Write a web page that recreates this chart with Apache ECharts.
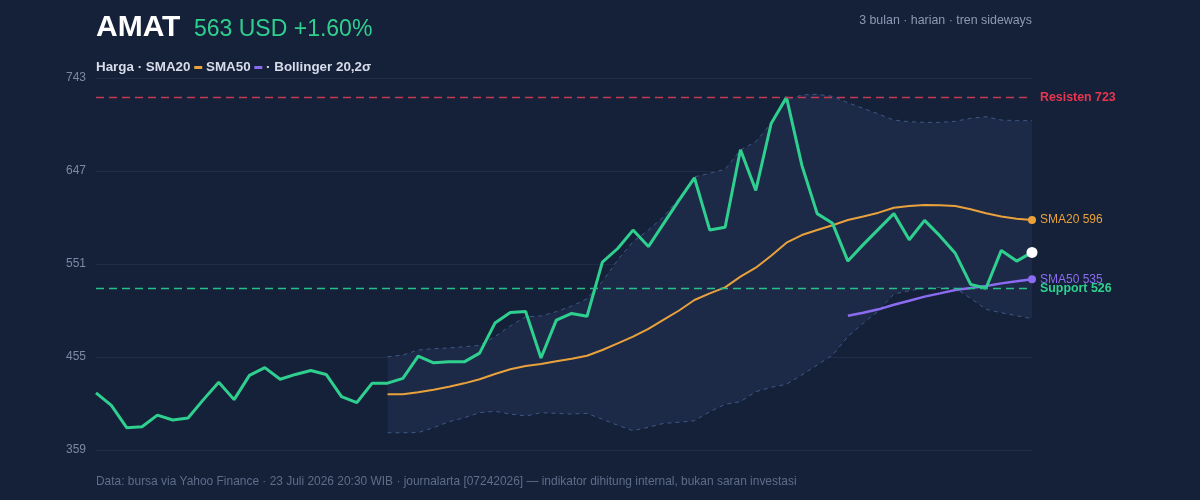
<!DOCTYPE html>
<html>
<head>
<meta charset="utf-8">
<title>AMAT</title>
<script src="https://cdn.jsdelivr.net/npm/echarts@6/dist/echarts.min.js"></script>
<style>
  html, body { margin: 0; padding: 0; background: #152039; }
  #chart { width: 1200px; height: 500px; }
</style>
</head>
<body>
<div id="chart"></div>
<script>
// harga penutupan harian, 3 bulan
const price = [418, 405, 382, 383, 395, 390, 392, 411, 429, 411,
  436, 444, 432, 437, 441, 437, 414, 408, 428, 428,
  433, 456, 449, 450, 450, 459, 490, 501, 502, 454,
  493, 500, 497, 553, 567, 586, 569, 593, 617, 640,
  586, 589, 669, 627, 696, 723, 653, 603, 593, 554,
  571, 587, 603, 576, 596, 580, 562, 530, 526, 565,
  554, 563];
// SMA20 mulai hari ke-20, SMA50 mulai hari ke-50
const sma20 = [416.5, 416.5, 418.5, 421.3, 424.3, 427.8, 432, 437.4, 442.3, 445.7,
  447.8, 450.5, 453.2, 456.3, 462.2, 469.1, 476, 484, 493.5, 503,
  513.8, 520.7, 526.9, 537.9, 547.2, 559.6, 573, 580.9, 586.1, 591,
  596.4, 600, 604, 609.1, 610.9, 611.9, 611.6, 610.9, 607.5, 603.3,
  600, 597.8, 596.4];
const sma50 = [497.6, 500.7, 504.2, 509, 513.1, 517.3, 520.7, 524.2, 526.2, 528.3,
  531, 533.1, 535.3];
// Bollinger 20,2
const bbUpper = [455.3, 457, 462.2, 463.6, 464.3, 465.6, 467, 476, 487, 496.6,
  497.3, 501.8, 507.6, 515, 533, 555.2, 574, 586, 600, 619,
  641, 644.6, 648.7, 668.7, 677.2, 696.2, 720.3, 725.5, 726.2, 724,
  717.5, 711.7, 705.8, 699.6, 697.9, 697.2, 697.2, 698.3, 701.4, 703.1,
  699.6, 699, 699];
const bbLower = [376.8, 376.8, 377, 382, 388.2, 392.3, 397.5, 398.9, 396.1, 394.1,
  397.5, 396.8, 396.1, 396.8, 390.7, 384.5, 379, 382.4, 386.5, 387.6,
  389.2, 398.5, 406.2, 408.9, 419.2, 423.7, 426.8, 436.4, 446.7, 457,
  476, 489.8, 502.8, 520, 523.4, 525.9, 526.9, 525.9, 515.6, 504.2,
  500.7, 497.6, 494.5];
const yTicks = [359, 455, 551, 647, 743];
const resistance = 723;
const support = 526;

const n = price.length;
const days = price.map((_, i) => i + 1);
const pad = arr => Array(n - arr.length).fill('-').concat(arr);
const bandWidth = bbUpper.map((v, i) => +(v - bbLower[i]).toFixed(1));

const font = 'Liberation Sans, Arial, Helvetica, sans-serif';
const green = '#2fd08f';
const orange = '#e9a23b';
const purple = '#8b6cf0';
const red = '#e8364f';
const bandLine = '#3e5884';

const chart = echarts.init(document.getElementById('chart'));
const lastDot = (size) => (v, p) => p.dataIndex === n - 1 ? size : 0;

const option = {
  animation: false,
  backgroundColor: '#152039',
  textStyle: { fontFamily: font },
  grid: { left: 96, right: 168, top: 78, bottom: 50 },
  graphic: [
    { type: 'text', left: 96, top: 13, style: { text: 'AMAT', fill: '#ffffff', font: 'bold 30px ' + font } },
    { type: 'text', left: 194, top: 18, style: { text: '563 USD +1.60%', fill: green, font: '23px ' + font } },
    { type: 'text', right: 168, top: 15, style: { text: '3 bulan · harian · tren sideways', fill: '#8d99b2', font: '12.4px ' + font } },
    {
      type: 'text', left: 96, top: 61,
      style: {
        text: '{a|Harga · SMA20} {o| } {a|SMA50} {p| } {a|· Bollinger 20,2σ}',
        fill: '#d6dcea',
        font: 'bold 13.4px ' + font,
        rich: {
          a: { fill: '#d6dcea', font: 'bold 13.4px ' + font },
          o: { width: 8, height: 3, backgroundColor: orange },
          p: { width: 8, height: 3, backgroundColor: purple }
        }
      }
    },
    { type: 'text', left: 96, top: 476, style: { text: 'Data: bursa via Yahoo Finance · 23 Juli 2026 20:30 WIB · journalarta [07242026] — indikator dihitung internal, bukan saran investasi', fill: '#5f6d89', font: '11.95px ' + font } }
  ],
  xAxis: {
    type: 'category',
    data: days,
    boundaryGap: false,
    show: false
  },
  yAxis: {
    type: 'value',
    min: yTicks[0],
    max: yTicks[yTicks.length - 1],
    interval: yTicks[1] - yTicks[0],
    axisLine: { show: false },
    axisTick: { show: false },
    axisLabel: { color: '#7d89a4', fontSize: 12, margin: 10 },
    splitLine: { lineStyle: { color: '#212d48', width: 1 } }
  },
  series: [
    {
      name: 'bb-base', type: 'line', stack: 'bb', data: pad(bbLower),
      showSymbol: false, lineStyle: { opacity: 0 }, silent: true, z: 1
    },
    {
      name: 'bb-fill', type: 'line', stack: 'bb', data: pad(bandWidth),
      showSymbol: false, lineStyle: { opacity: 0 },
      areaStyle: { color: '#1c2a48', opacity: 1 }, silent: true, z: 1
    },
    {
      name: 'BB atas', type: 'line', data: pad(bbUpper), showSymbol: false,
      lineStyle: { color: bandLine, width: 1, type: [4, 4] }, z: 2
    },
    {
      name: 'BB bawah', type: 'line', data: pad(bbLower), showSymbol: false,
      lineStyle: { color: bandLine, width: 1, type: [4, 4] }, z: 2
    },
    {
      name: 'SMA20', type: 'line', data: pad(sma20),
      showSymbol: true, showAllSymbol: true, symbol: 'circle', symbolSize: lastDot(8),
      itemStyle: { color: orange },
      lineStyle: { color: orange, width: 2 },
      endLabel: { show: true, distance: 8, color: orange, fontSize: 12, formatter: p => 'SMA20 ' + Math.round(p.value) },
      z: 3
    },
    {
      name: 'SMA50', type: 'line', data: pad(sma50),
      showSymbol: true, showAllSymbol: true, symbol: 'circle', symbolSize: lastDot(8),
      itemStyle: { color: purple },
      lineStyle: { color: purple, width: 2.5 },
      endLabel: { show: true, distance: 8, color: purple, fontSize: 12, formatter: p => 'SMA50 ' + Math.round(p.value) },
      z: 3
    },
    {
      name: 'Harga', type: 'line', data: price, showSymbol: false,
      lineStyle: { color: green, width: 3 },
      markLine: {
        symbol: 'none', silent: true,
        data: [
          {
            yAxis: resistance,
            lineStyle: { color: '#c23a52', width: 1.4, type: [8, 5] },
            label: { formatter: 'Resisten ' + resistance, color: red }
          },
          {
            yAxis: support,
            lineStyle: { color: '#27c088', width: 1.4, type: [8, 5] },
            label: { formatter: 'Support ' + support, color: green }
          }
        ],
        label: { position: 'end', distance: 8, fontWeight: 'bold', fontSize: 12.4, fontFamily: font }
      },
      z: 4
    },
    {
      name: 'last', type: 'scatter', data: [[n - 1, price[n - 1]]],
      symbolSize: 11, itemStyle: { color: '#ffffff', opacity: 1 }, z: 5
    }
  ]
};
chart.setOption(option);
</script>
</body>
</html>
